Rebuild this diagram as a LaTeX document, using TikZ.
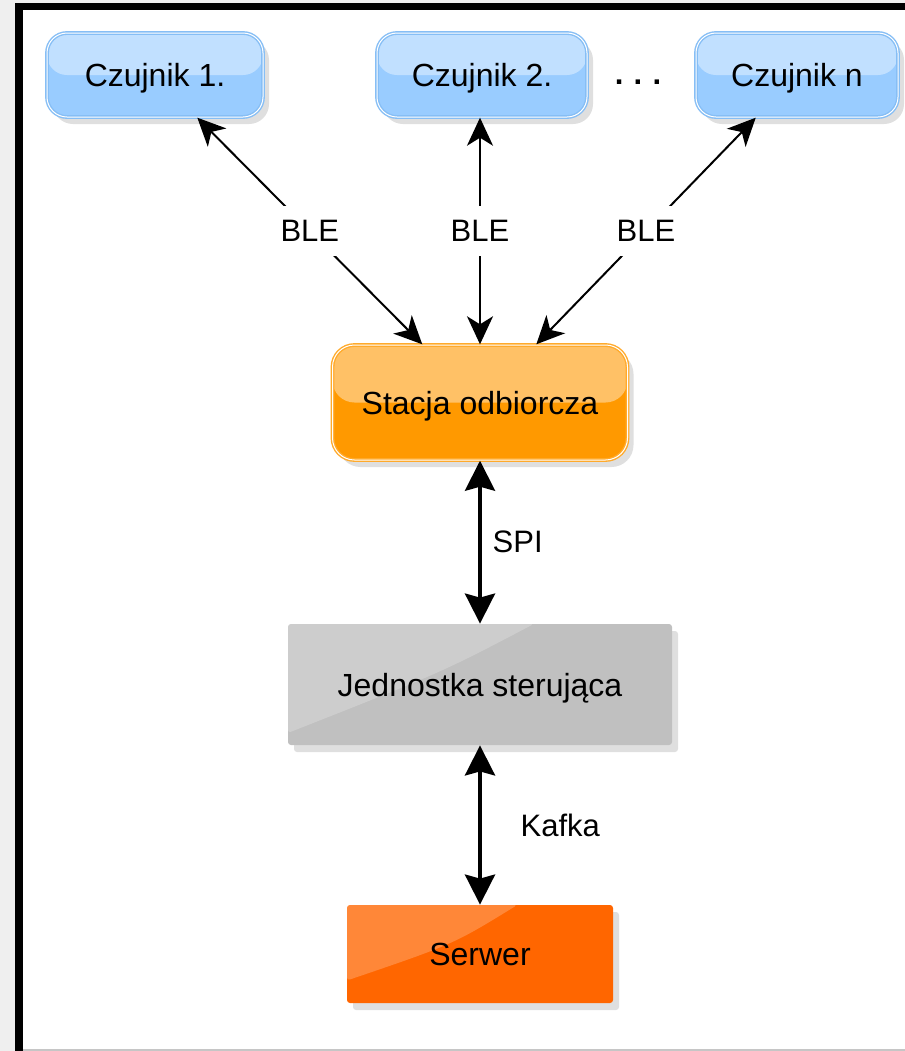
\documentclass[tikz,border=0pt]{standalone}
\usepackage{fontspec}
\setmainfont{Liberation Sans}
\usetikzlibrary{arrows.meta,shadows,calc}

\definecolor{pagegray}{HTML}{EFEFEF}
\definecolor{sensorblue}{HTML}{99CCFF}
\definecolor{sensoredge}{HTML}{86BEF5}
\definecolor{stationorange}{HTML}{FF9900}
\definecolor{stationedge}{HTML}{FFAA2B}
\definecolor{unitgray}{HTML}{C0C0C0}
\definecolor{serverorange}{HTML}{FF6600}

\tikzset{
  box/.style={align=center, text=black, font=\fontsize{16}{19}\selectfont,
    text height=11.5pt, text depth=0pt,
    drop shadow={shadow xshift=3pt, shadow yshift=-3.5pt, opacity=0.25}},
  glosstop/.style={path picture={
    \fill[white,opacity=0.4] (path picture bounding box.north west) rectangle (path picture bounding box.east);}},
  glossside/.style 2 args={path picture={
    \coordinate (nw) at (path picture bounding box.north west);
    \coordinate (se) at (path picture bounding box.south east);
    \fill[white,opacity=0.22] (nw) -- ($(nw)!#1!(nw-|se)$)
      .. controls ($(nw)!0.4!(se)$) .. ($(nw)!#2!(nw|-se)$) -- cycle;}},
  sensor/.style={box, glosstop, rounded corners=10pt, fill=sensorblue,
    draw=sensoredge, line width=0.7pt, double=white, double distance=0.5pt,
    minimum height=42pt},
  station/.style={box, glosstop, rounded corners=11pt, fill=stationorange,
    draw=stationedge, line width=0.7pt, double=white, double distance=0.5pt,
    minimum width=147.5pt, minimum height=57.5pt},
  unit/.style={box, glossside={0.64}{0.9}, rounded corners=1.5pt, fill=unitgray,
    minimum width=192pt, minimum height=60.5pt},
  server/.style={box, glossside={0.64}{0.77}, rounded corners=1.5pt, fill=serverorange,
    minimum width=133pt, minimum height=49pt},
  bleline/.style={line width=1pt, {Stealth[length=14pt,width=13pt,inset=4pt]}-{Stealth[length=14pt,width=13pt,inset=4pt]}},
  busline/.style={line width=2pt, {Stealth[length=15pt,width=15pt,inset=2pt]}-{Stealth[length=15pt,width=15pt,inset=2pt]}},
  linklabel/.style={text=black, font=\fontsize{15.5}{18}\selectfont},
  bletext/.style={linklabel, fill=white, inner sep=7pt}
}

\begin{document}
\begin{tikzpicture}[x=0.5pt,y=-0.5pt]
    % Page background and frame
    \useasboundingbox (0,0) rectangle (905,1051);
    \fill[pagegray] (0,0) rectangle (905,1051);
    \fill[black] (15,3) rectangle (905,1051);
    \fill[white] (23,10) rectangle (905,1049);
    \fill[gray!45] (23,1049) rectangle (905,1051);

    % Sensors
    \node[sensor, minimum width=108pt] (czujnik1) at (155,75) {Czujnik 1.};
    \node[sensor, minimum width=105pt] (czujnik2) at (482,75) {Czujnik 2.};
    \node[sensor, minimum width=101pt] (czujnikn) at (797,75) {Czujnik n};
    \node[linklabel] (dots) at (638,82) {\textbf{.\,\,.\,\,.}};

    % Receiving station, control unit and server
    \node[station] (stacja) at (480,402.5) {Stacja odbiorcza};
    \node[unit] (jednostka) at (480,684.5) {Jednostka sterująca};
    \node[server] (serwer) at (480,954) {Serwer};

    % BLE links
    \draw[bleline] (czujnik1) -- node[bletext] {BLE} (stacja);
    \draw[bleline] (czujnik2.south -| stacja) -- node[bletext] {BLE} (stacja);
    \draw[bleline] (czujnikn) -- node[bletext] {BLE} (stacja);

    % Wired links
    \draw[busline] (stacja) -- node[linklabel, right, xshift=2pt] {SPI} (jednostka);
    \draw[busline] (jednostka) -- node[linklabel, right, xshift=16pt] {Kafka} (serwer);
\end{tikzpicture}
\end{document}
